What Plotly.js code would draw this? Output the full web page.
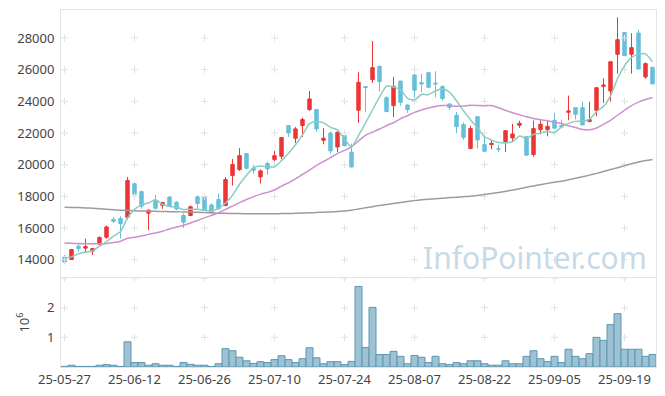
<!DOCTYPE html>
<html>
<head>
<meta charset="utf-8">
<script src="https://cdn.plot.ly/plotly-3.0.1.min.js"></script>
<style>html,body{margin:0;padding:0;background:#fff;}#chart{width:665px;height:396px;}</style>
</head>
<body>
<div id="chart"></div>
<script>
const dates = ['25-05-27','25-05-28','25-05-29','25-05-30','25-06-02','25-06-04','25-06-05','25-06-09','25-06-10','25-06-11',
'25-06-12','25-06-13','25-06-16','25-06-17','25-06-18','25-06-19','25-06-20','25-06-23','25-06-24','25-06-25',
'25-06-26','25-06-27','25-06-30','25-07-01','25-07-02','25-07-03','25-07-04','25-07-07','25-07-08','25-07-09',
'25-07-10','25-07-11','25-07-14','25-07-15','25-07-16','25-07-17','25-07-18','25-07-21','25-07-22','25-07-23',
'25-07-24','25-07-25','25-07-28','25-07-29','25-07-30','25-07-31','25-08-01','25-08-04','25-08-05','25-08-06',
'25-08-07','25-08-08','25-08-11','25-08-12','25-08-13','25-08-14','25-08-18','25-08-19','25-08-20','25-08-21',
'25-08-22','25-08-25','25-08-26','25-08-27','25-08-28','25-08-29','25-09-01','25-09-02','25-09-03','25-09-04',
'25-09-05','25-09-08','25-09-09','25-09-10','25-09-11','25-09-12','25-09-15','25-09-16','25-09-17','25-09-18',
'25-09-19','25-09-22','25-09-23','25-09-24','25-09-25'];

const openP = [14160,14010,14850,14730,14540,14980,15420,16540,16600,16680,
18800,18300,16940,17750,17440,17960,17630,16790,16790,17970,
17970,17460,17800,17420,19310,19690,20700,19780,19230,20070,
20320,20530,22470,21670,22470,23480,23480,21540,22000,21120,
21840,20790,23440,24930,25370,26210,24230,23730,25280,23770,
25660,25180,25810,25150,24930,23830,23120,22530,21020,23030,
21270,21270,21010,21440,21690,22490,21770,20640,22210,22210,
22800,22470,23310,23600,23600,22720,23430,24950,24650,26970,
28350,26970,28310,25540,26150];

const closeP = [13850,14640,14710,14830,14700,15400,16070,16430,16280,19000,
18130,17380,17130,17250,17610,17420,17210,16370,17340,17550,
17130,16960,17210,19060,20010,20570,19780,19650,19610,19730,
20570,21710,22000,22260,22850,24150,22260,21670,20870,22050,
21200,19860,25200,24870,26130,25240,23350,24950,23940,23480,
24700,25100,24890,25100,24170,23620,22400,21730,22280,21560,
20850,21350,20980,22150,21940,22610,20600,22280,22550,22420,
22300,22380,23390,23180,22510,22850,24860,25030,26500,27890,
26880,27390,26040,26380,25100];

const highP = [14300,14680,14980,15320,14750,15480,16160,16700,16750,19230,
18850,18350,17150,18090,17650,18000,17700,16920,17420,18050,
18180,17550,18180,19230,20360,21040,20720,19990,19700,20200,
20870,21750,22500,22380,22970,24650,23520,22300,22090,22090,
21880,21330,25830,24950,27810,26250,24320,25540,25300,23810,
25750,25730,25810,25900,25010,23880,23330,22660,22450,23040,
21770,21560,21270,22150,22570,22780,21770,22780,22800,22800,
23270,22840,24360,23640,23980,23980,24870,25450,26510,29300,
28350,28300,28520,26460,26150];

const lowP = [13760,13990,14500,14430,14300,14900,15320,16330,15340,16540,
18090,17210,15860,17170,17210,17380,17130,15990,16750,17210,
17100,16880,17170,17380,18680,19610,19690,19440,18810,19350,
19940,20360,21750,21370,21750,23390,22090,21290,20700,20790,
21160,19820,22640,23310,25160,24610,23350,23010,23730,23270,
24190,24590,24840,24250,24040,23460,21980,21560,20970,21020,
20800,20970,20800,20810,21480,22320,20600,20510,21920,21790,
22300,22300,22800,22850,22510,22720,23060,23900,23980,25750,
26880,25750,26040,25430,25100];

const ma5 = [14120,14180,14370,14480,14546,14856,15142,15486,15776,16636,
17182,17444,17584,17778,17500,17358,17324,17172,17190,17178,
17120,17070,17238,17582,18074,18762,19326,19814,19924,19868,
19868,20254,20724,21254,21878,22594,22704,22638,22360,22200,
21610,21130,21836,22636,23452,24260,24958,24908,24722,24192,
24084,24434,24422,24654,24792,24576,24036,23404,22840,22318,
21764,21554,21404,21378,21454,21806,21656,21916,21996,22092,
22030,22386,22608,22734,22752,22862,23358,23686,24350,25426,
26240,26760,26980,27000,26500];

const ma20 = [15060,15040,15020,15010,15000,15010,15030,15080,15170,15350,
15420,15500,15600,15680,15800,15950,16060,16180,16320,16480,
16640,16800,16960,17180,17380,17600,17800,17980,18140,18250,
18400,18650,18850,19100,19380,19650,19950,20200,20450,20700,
20900,21130,21500,21850,22050,22250,22470,22650,22900,23100,
23300,23450,23580,23680,23730,23730,23690,23700,23750,23740,
23720,23740,23600,23430,23280,23150,23020,22920,22840,22770,
22690,22600,22460,22350,22220,22200,22320,22550,22800,23120,
23450,23730,23950,24110,24220];

const ma120 = [17310,17300,17290,17270,17250,17220,17190,17160,17130,17110,
17090,17075,17065,17055,17045,17035,17025,17015,17005,16990,
16975,16960,16940,16930,16920,16910,16905,16900,16895,16895,
16900,16910,16920,16930,16945,16960,16980,17000,17020,17050,
17080,17120,17200,17280,17350,17420,17480,17550,17610,17670,
17730,17780,17820,17850,17880,17920,17950,17980,18010,18060,
18120,18180,18240,18320,18400,18480,18570,18660,18740,18820,
18890,18960,19050,19140,19240,19340,19450,19570,19690,19810,
19940,20060,20170,20260,20330];

const volume = [20000,60000,20000,20000,20000,60000,80000,60000,20000,850000,
150000,150000,60000,110000,60000,60000,20000,150000,90000,60000,
60000,20000,110000,620000,550000,330000,210000,120000,180000,150000,
250000,380000,250000,150000,280000,650000,310000,110000,180000,180000,
80000,190000,2720000,660000,2010000,420000,420000,530000,360000,110000,
390000,330000,150000,360000,110000,80000,150000,110000,210000,210000,
110000,60000,60000,210000,110000,110000,360000,550000,280000,180000,
360000,150000,600000,360000,280000,450000,1000000,900000,1430000,1800000,
600000,600000,600000,360000,420000];

const priceTicks = [14000,16000,18000,20000,22000,24000,26000,28000];
const priceTickText = ['14000','16000','18000','20000','22000','24000','26000','28000'];
const volTicks = [1000000,2000000];
const volTickText = ['1','2'];
const watermark = 'InfoPointer.com';

const xTickVals = dates.filter((d,i)=>i%10===0);

// grid "+" marks at tick intersections
const gx=[],gy=[],vx=[],vy=[];
xTickVals.forEach(d=>{priceTicks.forEach(p=>{gx.push(d);gy.push(p);});
  volTicks.concat([3000000]).forEach(v=>{vx.push(d);vy.push(v);});});

const tickFont = {family:'Noto Sans, DejaVu Sans, sans-serif', size:13, color:'#444'};
const lineCol = '#e4e4e4';
const crossMarker = {symbol:'cross-thin',size:5,line:{width:1,color:'#e2e2e2'}};

const traces = [
 {type:'candlestick',x:dates,open:openP,high:highP,low:lowP,close:closeP,xaxis:'x',yaxis:'y',
  whiskerwidth:0,showlegend:false,hoverinfo:'skip',
  increasing:{line:{color:'#ec3535',width:1},fillcolor:'#ec3535'},
  decreasing:{line:{color:'#66bfdb',width:1},fillcolor:'#66bfdb'}},
 {type:'bar',x:dates,y:volume,xaxis:'x',yaxis:'y2',showlegend:false,hoverinfo:'skip',
  marker:{color:'#9cc2d3',line:{color:'#5d97b1',width:1}}},
 {type:'scatter',mode:'markers',x:gx,y:gy,xaxis:'x',yaxis:'y',hoverinfo:'skip',showlegend:false,marker:crossMarker},
 {type:'scatter',mode:'markers',x:vx,y:vy,xaxis:'x',yaxis:'y2',hoverinfo:'skip',showlegend:false,marker:crossMarker},
 {type:'scatter',mode:'lines',x:dates,y:ma120,xaxis:'x',yaxis:'y',showlegend:false,hoverinfo:'skip',
  line:{color:'#9c9c9c',width:1.5,shape:'spline',smoothing:0.6}},
 {type:'scatter',mode:'lines',x:dates,y:ma20,xaxis:'x',yaxis:'y',showlegend:false,hoverinfo:'skip',
  line:{color:'#cf8fcf',width:1.5,shape:'spline',smoothing:0.6}},
 {type:'scatter',mode:'lines',x:dates,y:ma5,xaxis:'x',yaxis:'y',showlegend:false,hoverinfo:'skip',
  line:{color:'#8acdbf',width:1.5,shape:'spline',smoothing:0.6}}
];

const layout = {
 width:665,height:396,
 margin:{l:61,r:9,t:10,b:29},
 paper_bgcolor:'#fff',plot_bgcolor:'#fff',
 showlegend:false,bargap:0,
 font:tickFont,
 xaxis:{type:'category',categoryorder:'array',categoryarray:dates,range:[-0.5,84.5],anchor:'y2',
   tickmode:'array',tickvals:xTickVals,ticktext:xTickVals,
   showgrid:false,zeroline:false,showline:true,mirror:'all',linecolor:lineCol,linewidth:1,
   ticks:'',tickfont:tickFont,rangeslider:{visible:false},fixedrange:true},
 yaxis:{domain:[0.251,1],range:[12883,29767],tickmode:'array',tickvals:priceTicks,ticktext:priceTickText,showgrid:false,zeroline:false,
   showline:true,mirror:true,linecolor:lineCol,ticks:'outside',ticklen:3,tickcolor:'rgba(0,0,0,0)',tickfont:tickFont},
 yaxis2:{domain:[0,0.249],range:[0,3000000],tickmode:'array',tickvals:volTicks,ticktext:volTickText,showgrid:false,zeroline:false,
   showline:true,mirror:true,linecolor:lineCol,ticks:'outside',ticklen:3,tickcolor:'rgba(0,0,0,0)',tickfont:tickFont,
   title:{text:'10<sup>6</sup>',font:tickFont,standoff:14}},
 annotations:[{text:watermark,xref:'paper',yref:'paper',x:0.988,y:0.308,xanchor:'right',yanchor:'middle',showarrow:false,
   font:{family:'Noto Sans, DejaVu Sans, sans-serif',size:30,color:'#c6dae6'}}]
};

Plotly.newPlot('chart',traces,layout,{displayModeBar:false,staticPlot:true});
</script>
</body>
</html>
